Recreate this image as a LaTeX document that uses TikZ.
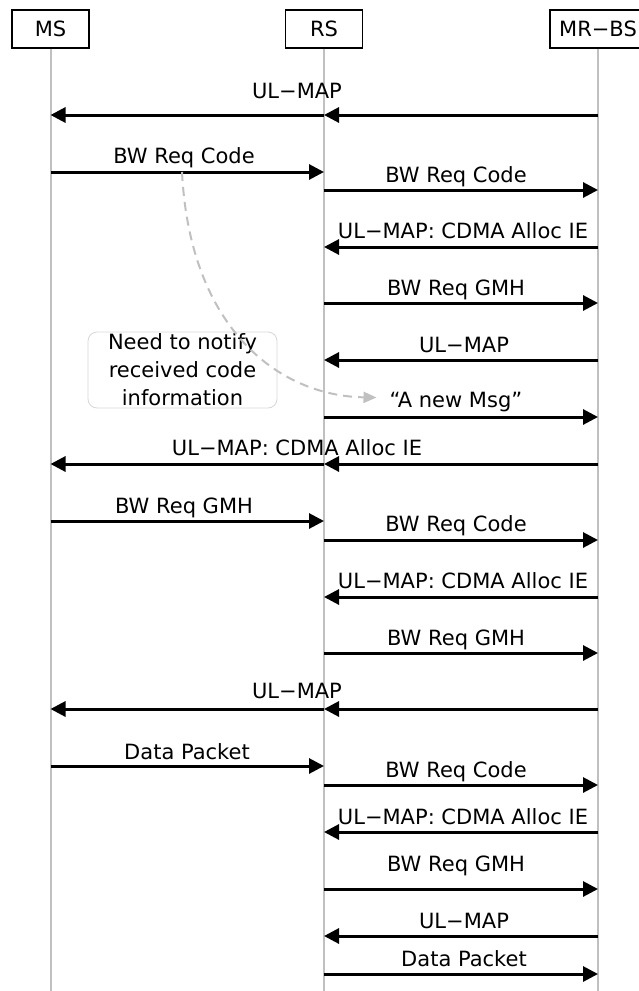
\documentclass[tikz,border=0pt]{standalone}
\usepackage{fontspec}
\setmainfont{DejaVu Sans}
\usetikzlibrary{arrows.meta}
\definecolor{lifegray}{RGB}{192,192,192}
\definecolor{notegray}{RGB}{215,215,215}
\tikzset{
	actor/.style={draw, line width=1.2pt, minimum width=77pt, minimum height=38pt, inner sep=0pt},
	lifeline/.style={line width=2pt, lifegray},
	msg/.style={line width=3pt, -{Triangle[length=15pt,width=15pt]}},
	lbl/.style={anchor=base, inner sep=0pt},
	note/.style={draw=notegray, line width=0.8pt, rounded corners=9pt, minimum width=189pt, minimum height=76pt, inner sep=0pt, align=center},
	hint/.style={lifegray, line width=2pt, dash pattern=on 9pt off 6pt, -{Triangle[length=13pt,width=11pt]}}
}
\begin{document}
\begin{tikzpicture}[x=1pt, y=-1pt, font=\fontsize{21}{28}\selectfont]
			\useasboundingbox (0,0) rectangle (638,991);
			%entities
			\node[actor] (ms) at (50.5,29){MS};
			\node[actor] (rs) at (324,29){RS};
			\node[actor, minimum width=96pt] (bs) at (598,29){MR−BS};
			\foreach \n in {ms, rs, bs}{
				\draw[lifeline] (\n.south) -- (\n.south |- 0,991);
			}
			
			%first request
			\node[lbl] (m1) at (297,98){UL−MAP};
			\draw[msg] (bs |- 0,115) -- (rs |- 0,115);
			\draw[msg] (rs |- 0,115) -- (ms |- 0,115);
			\node[lbl] (m2) at (184,163){BW Req Code};
			\draw[msg] (ms |- 0,172) -- (rs |- 0,172);
			\node[lbl] (m3) at (456,182){BW Req Code};
			\draw[msg] (rs |- 0,190) -- (bs |- 0,190);
			\node[lbl] (m4) at (463,238){UL−MAP: CDMA Alloc IE};
			\draw[msg] (bs |- 0,247) -- (rs |- 0,247);
			\node[lbl] (m5) at (456,295){BW Req GMH};
			\draw[msg] (rs |- 0,303) -- (bs |- 0,303);
			\node[lbl] (m6) at (464,352){UL−MAP};
			\draw[msg] (bs |- 0,360) -- (rs |- 0,360);
			\node[lbl] (m7) at (456,407){“A new Msg”};
			\draw[msg] (rs |- 0,417) -- (bs |- 0,417);
			
			%note
			\node[note] (note) at (182.5,370){Need to notify\\received code\\information};
			\coordinate (tap) at (182,172);
			\draw[hint] (tap) .. controls (190,330) and (280,396) .. ([xshift=-13pt, yshift=4pt]m7.west);
			
			%second request
			\node[lbl] (m8) at (297,455){UL−MAP: CDMA Alloc IE};
			\draw[msg] (bs |- 0,464) -- (rs |- 0,464);
			\draw[msg] (rs |- 0,464) -- (ms |- 0,464);
			\node[lbl] (m9) at (184,513){BW Req GMH};
			\draw[msg] (ms |- 0,521) -- (rs |- 0,521);
			\node[lbl] (m10) at (456,531){BW Req Code};
			\draw[msg] (rs |- 0,540) -- (bs |- 0,540);
			\node[lbl] (m11) at (463,588){UL−MAP: CDMA Alloc IE};
			\draw[msg] (bs |- 0,597) -- (rs |- 0,597);
			\node[lbl] (m12) at (456,645){BW Req GMH};
			\draw[msg] (rs |- 0,653) -- (bs |- 0,653);
			
			%data
			\node[lbl] (m13) at (297,698){UL−MAP};
			\draw[msg] (bs |- 0,709) -- (rs |- 0,709);
			\draw[msg] (rs |- 0,709) -- (ms |- 0,709);
			\node[lbl] (m14) at (187,759){Data Packet};
			\draw[msg] (ms |- 0,766) -- (rs |- 0,766);
			\node[lbl] (m15) at (456,777){BW Req Code};
			\draw[msg] (rs |- 0,785) -- (bs |- 0,785);
			\node[lbl] (m16) at (463,824){UL−MAP: CDMA Alloc IE};
			\draw[msg] (bs |- 0,832) -- (rs |- 0,832);
			\node[lbl] (m17) at (456,871){BW Req GMH};
			\draw[msg] (rs |- 0,889) -- (bs |- 0,889);
			\node[lbl] (m18) at (464,928){UL−MAP};
			\draw[msg] (bs |- 0,936) -- (rs |- 0,936);
			\node[lbl] (m19) at (464,966){Data Packet};
			\draw[msg] (rs |- 0,974) -- (bs |- 0,974);
		\end{tikzpicture}
\end{document}
